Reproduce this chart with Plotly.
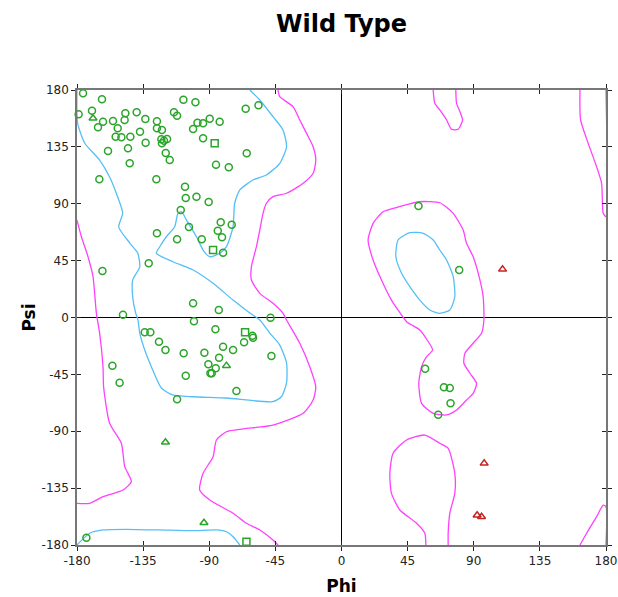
import plotly.graph_objects as go

# ---------------- data (phi, psi in degrees) ----------------
circle_pts = [
    (-175.9, 177.4), (-163.0, 172.6), (-178.9, 160.8), (-169.8, 163.6), (-162.3, 154.9),
    (-165.7, 150.5), (-155.5, 155.5), (-152.3, 149.7), (-147.1, 161.6), (-147.6, 156.3),
    (-139.4, 162.4), (-133.5, 157.1), (-153.7, 143.1), (-149.8, 142.6), (-143.7, 143.1),
    (-137.1, 147.0), (-158.9, 131.7), (-145.3, 133.9), (-133.3, 138.3), (-144.1, 122.0),
    (-164.8, 109.3), (-125.6, 155.2), (-125.6, 149.7), (-122.2, 148.4), (-114.0, 162.4),
    (-111.9, 159.7), (-107.6, 172.3), (-99.4, 170.3), (-122.6, 141.0), (-120.8, 139.9),
    (-118.7, 141.2), (-122.2, 137.8), (-119.6, 130.2), (-116.9, 124.6), (-126.0, 109.3),
    (-101.0, 149.1), (-98.0, 154.1), (-94.2, 153.7), (-89.7, 157.3), (-82.9, 154.9),
    (-94.2, 141.8), (-65.2, 165.2), (-56.5, 167.9), (-64.5, 129.9), (-85.4, 120.9),
    (-76.7, 118.8), (-106.5, 103.5), (-106.0, 94.5), (-98.7, 95.6), (-90.4, 91.4),
    (-109.4, 85.1), (-103.8, 71.6), (-82.2, 75.3), (-74.7, 73.4), (-84.2, 68.7),
    (-81.3, 63.5), (-125.6, 66.6), (-111.9, 61.9), (-95.1, 61.9), (-80.6, 51.3),
    (-131.2, 42.9), (-162.7, 36.8), (-101.0, 11.2), (-83.5, 5.9), (-148.7, 2.2),
    (-48.3, -0.2), (-100.4, -3.0), (-133.9, -11.7), (-130.1, -11.7), (-85.8, -9.3),
    (-60.6, -14.4), (-60.2, -16.0), (-66.3, -19.6), (-124.2, -19.1), (-119.8, -25.7),
    (-80.6, -23.1), (-73.8, -25.7), (-107.4, -28.3), (-93.3, -27.9), (-83.3, -31.8),
    (-47.7, -30.5), (-90.6, -37.0), (-85.6, -40.2), (-89.2, -44.1), (-88.3, -44.1),
    (-155.9, -38.1), (-151.0, -51.6), (-106.0, -46.0), (-71.5, -58.2), (-111.9, -64.7),
    (-173.6, -174.2),
    (52.4, 88.2), (80.1, 37.6), (56.9, -40.5), (69.7, -55.2), (73.7, -55.8),
    (74.2, -67.9), (65.8, -76.9),
]
triangle_pts = [(-169.1, 157.6), (-78.3, -38.1), (-119.8, -98.7), (-93.6, -162.4)]
square_pts = [(-86.3, 137.8), (-87.4, 53.4), (-65.6, -11.7), (-64.7, -177.4)]
outlier_pts = [(109.6, 38.1), (97.1, -115.4), (92.3, -156.5), (95.3, -157.6)]

# core (blue) contours
core_beta_alpha = [
    (-180, 180), (-179.6, 153.9), (-174.8, 138.1), (-164.6, 124.6), (-157.8, 111.2),
    (-152.3, 95.3), (-148.9, 82.7), (-151.6, 71.6), (-144.1, 58.9), (-138.7, 51.0),
    (-137.3, 40.0), (-142.1, 29.7), (-142.1, 16.2), (-140.1, 3.6), (-138.5, -2.0),
    (-137.3, -12.3), (-133.9, -25.7), (-129.4, -38.9), (-122.6, -55.8), (-114.9, -61.3),
    (-101.3, -62.7), (-78.3, -63.7), (-46.8, -66.6), (-40.9, -62.7), (-37.4, -51.8),
    (-37.4, -36.0), (-42.0, -21.8), (-48.8, -12.3), (-55.6, -2.0), (-62.4, 3.6),
    (-73.8, 13.8), (-87.4, 27.1), (-101.0, 37.6), (-114.7, 44.1), (-126.0, 50.8),
    (-123.7, 56.0), (-119.2, 63.9), (-113.5, 71.8), (-111.3, 82.4), (-108.9, 83.7),
    (-105.5, 77.1), (-98.7, 63.9), (-94.2, 53.4), (-89.7, 48.1), (-82.9, 50.8),
    (-78.3, 56.0), (-73.8, 71.8), (-72.7, 90.4), (-69.2, 100.9), (-60.2, 108.8),
    (-51.1, 112.7), (-42.0, 122.0), (-37.4, 135.1), (-39.8, 148.4), (-46.6, 158.9),
    (-55.6, 172.1), (-62.4, 180),
]
core_bottom = [
    (-180, -180), (-171.4, -170.7), (-162.3, -168.1), (-146.4, -167.6), (-123.7, -168.1),
    (-101.0, -168.7), (-85.1, -168.1), (-78.3, -169.5), (-73.8, -173.4), (-69.2, -180),
]
core_left_handed = [
    (38.5, 61.3), (46.5, 67.1), (55.6, 66.6), (62.4, 61.3), (66.9, 53.4), (71.5, 45.5),
    (76.0, 32.3), (77.1, 16.5), (73.7, 5.9), (66.9, 3.3), (60.1, 5.9), (53.3, 13.8),
    (46.5, 24.4), (40.9, 35.0), (37.0, 48.1), (38.5, 61.3),
]

# allowed (magenta) contours
allowed_left_edge = [
    (-180, 77.1), (-177.0, 63.9), (-172.5, 48.1), (-169.1, 32.3), (-166.8, 3.3),
    (-164.6, -12.3), (-162.3, -38.9), (-161.9, -54.8), (-157.8, -83.7), (-149.8, -99.5),
    (-147.5, -118.0), (-143.0, -129.9), (-148.7, -136.5), (-162.3, -141.8),
    (-171.4, -147.0), (-180, -147.0),
]
allowed_main = [
    (-43.2, 180), (-42.0, 174.7), (-33.0, 166.8), (-28.4, 156.3), (-23.8, 145.7),
    (-19.3, 135.1), (-17.5, 124.6), (-19.3, 114.1), (-26.1, 106.2), (-37.4, 98.3),
    (-46.6, 95.6), (-51.1, 90.4), (-53.4, 82.4), (-55.6, 69.2), (-57.9, 56.0),
    (-61.3, 40.2), (-61.3, 29.7), (-55.6, 19.1), (-46.6, 11.2), (-39.8, 3.3),
    (-37.4, -2.0), (-28.4, -20.4), (-21.6, -38.9), (-17.5, -54.8), (-19.3, -65.3),
    (-26.1, -75.8), (-46.6, -85.1), (-78.3, -90.4), (-85.1, -96.9), (-87.4, -110.1),
    (-94.2, -123.3), (-96.5, -136.5), (-89.7, -144.4), (-73.8, -154.9), (-64.7, -162.8),
    (-55.6, -168.1), (-46.6, -176.0), (-43.2, -180),
]
allowed_top_right = [
    (162.3, 180), (162.7, 156.3), (167.9, 137.8), (173.6, 119.3), (177.0, 106.2),
    (178.1, 82.4), (180, 79.8), (180, 180),
]
allowed_bottom_right = [
    (162.3, -180), (166.8, -170.7), (173.6, -157.6), (178.1, -148.4), (180, -149.7),
    (180, -180),
]
allowed_top_lobe = [
    (62.4, 180), (63.5, 169.5), (66.9, 164.2), (71.5, 156.3), (74.9, 148.9), (79.4, 148.9),
    (82.4, 156.3), (80.6, 162.8), (78.3, 169.5), (77.8, 180),
]
allowed_left_handed = [
    (52.4, 91.6), (66.9, 90.8), (76.0, 82.4), (82.8, 69.2), (85.1, 58.7), (89.6, 48.1),
    (94.2, 29.7), (96.4, 16.5), (96.9, -2.0), (95.3, -12.5), (89.6, -20.4), (84.0, -28.3),
    (83.3, -36.2), (87.4, -44.1), (91.9, -52.1), (89.6, -60.0), (85.1, -65.3),
    (78.3, -73.2), (71.5, -77.1), (62.4, -75.8), (54.5, -67.9), (52.6, -52.1),
    (54.5, -38.9), (57.9, -31.0), (62.0, -25.7), (58.3, -17.8), (53.3, -9.9),
    (44.3, -3.3), (38.5, 5.9), (34.0, 13.8), (27.2, 29.7), (21.5, 45.5), (18.1, 61.3),
    (21.5, 74.5), (28.3, 83.7), (39.7, 87.7), (52.4, 91.6),
]
allowed_bottom_mid = [
    (57.4, -180), (56.7, -170.7), (51.1, -162.8), (39.7, -152.3), (34.0, -139.1),
    (32.9, -123.3), (35.1, -107.4), (44.3, -96.9), (56.7, -93.0), (66.9, -99.5),
    (72.6, -103.5), (77.1, -123.3), (77.1, -139.1), (73.7, -154.9), (72.6, -170.7),
    (72.6, -180),
]

tick_vals = [-180, -135, -90, -45, 0, 45, 90, 135, 180]
tick_text = ["-180", "-135", "-90", "-45", "0", "45", "90", "135", "180"]

# ---------------- figure ----------------
BLUE = "#55bff5"
MAGENTA = "#ff40ff"
GREEN = "#2aa52a"
RED = "#c42424"

fig = go.Figure()

def add_line(pts, color):
    fig.add_trace(go.Scatter(
        x=[p[0] for p in pts], y=[p[1] for p in pts], mode="lines",
        line=dict(color=color, width=1.3, shape="spline", smoothing=0.6),
        hoverinfo="skip", showlegend=False))

for c in [allowed_left_edge, allowed_main, allowed_top_right, allowed_bottom_right,
          allowed_top_lobe, allowed_left_handed, allowed_bottom_mid]:
    add_line(c, MAGENTA)
for c in [core_beta_alpha, core_bottom, core_left_handed]:
    add_line(c, BLUE)

def add_markers(pts, symbol, color, size):
    fig.add_trace(go.Scatter(
        x=[p[0] for p in pts], y=[p[1] for p in pts], mode="markers",
        marker=dict(symbol=symbol, size=size, color=color, line=dict(color=color, width=1.5)),
        showlegend=False, cliponaxis=False))

add_markers(circle_pts, "circle-open", GREEN, 7)
add_markers(triangle_pts, "triangle-up-open", GREEN, 7)
add_markers(square_pts, "square-open", GREEN, 7)
add_markers(outlier_pts, "triangle-up-open", RED, 7)

# invisible trace to activate overlay axes (for crossing ticks)
fig.add_trace(go.Scatter(x=[None], y=[None], xaxis="x2", yaxis="y2",
                         showlegend=False, hoverinfo="skip"))

tickfont = dict(family="DejaVu Sans, Verdana, sans-serif", size=12, color="#222")
common = dict(range=[-180, 180], tickmode="array", tickvals=tick_vals, ticktext=tick_text,
              showgrid=False, zeroline=True, zerolinecolor="#000", zerolinewidth=1,
              showline=True, linecolor="#777", linewidth=1.5, mirror="ticks",
              ticks="outside", ticklen=4, tickwidth=1.3, tickcolor="#222",
              tickfont=tickfont, fixedrange=True, automargin=False)

fig.update_layout(
    width=618, height=597,
    margin=dict(l=77, r=12, t=90, b=52),
    paper_bgcolor="white", plot_bgcolor="white",
    title=dict(text="Wild Type", x=0.5, xref="paper", xanchor="center",
               y=1 - 24 / 597, yref="container", yanchor="middle",
               font=dict(family="DejaVu Sans, Arial Black, sans-serif", size=24,
                         color="black", weight="bold")),
    xaxis=dict(common, title=dict(text="<b>Phi</b>", standoff=13,
                                  font=dict(family="DejaVu Sans, Arial, sans-serif", size=17,
                                            color="black"))),
    yaxis=dict(common, title=dict(text="<b>Psi</b>", standoff=2,
                                  font=dict(family="DejaVu Sans, Arial, sans-serif", size=17,
                                            color="black"))),
    xaxis2=dict(range=[-180, 180], overlaying="x", tickmode="array", tickvals=tick_vals,
                showticklabels=False, ticks="inside", ticklen=4, tickwidth=1.3,
                tickcolor="#222", mirror="ticks", showline=False, showgrid=False,
                zeroline=False, fixedrange=True, automargin=False),
    yaxis2=dict(range=[-180, 180], overlaying="y", tickmode="array", tickvals=tick_vals,
                showticklabels=False, ticks="inside", ticklen=4, tickwidth=1.3,
                tickcolor="#222", mirror="ticks", showline=False, showgrid=False,
                zeroline=False, fixedrange=True, automargin=False),
)

fig.write_html("out.html")
